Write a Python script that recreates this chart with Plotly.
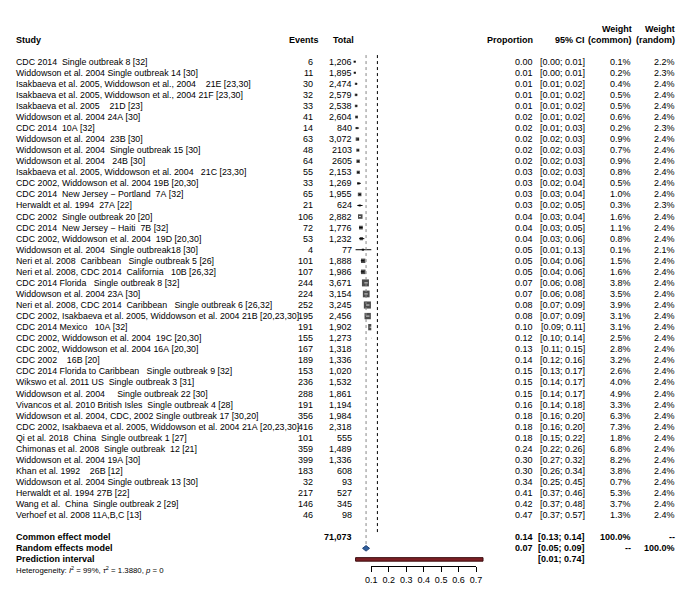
import plotly.graph_objects as go

NB = "\u00a0"

studies = [
    "CDC 2014  Single outbreak 8 [32]",
    "Widdowson et al. 2004 Single outbreak 14 [30]",
    "Isakbaeva et al. 2005, Widdowson et al., 2004    21E [23,30]",
    "Isakbaeva et al. 2005, Widdowson et al., 2004 21F [23,30]",
    "Isakbaeva et al. 2005    21D [23]",
    "Widdowson et al. 2004 24A [30]",
    "CDC 2014  10A [32]",
    "Widdowson et al. 2004  23B [30]",
    "Widdowson et al. 2004  Single outbreak 15 [30]",
    "Widdowson et al. 2004   24B [30]",
    "Isakbaeva et al. 2005, Widdowson et al. 2004   21C [23,30]",
    "CDC 2002, Widdowson et al. 2004 19B [20,30]",
    "CDC 2014  New Jersey \u2212 Portland  7A [32]",
    "Herwaldt et al. 1994  27A [22]",
    "CDC 2002  Single outbreak 20 [20]",
    "CDC 2014  New Jersey \u2212 Haiti  7B [32]",
    "CDC 2002, Widdowson et al. 2004  19D [20,30]",
    "Widdowson et al. 2004  Single outbreak18 [30]",
    "Neri et al. 2008  Caribbean   Single outbreak 5 [26]",
    "Neri et al. 2008, CDC 2014  California   10B [26,32]",
    "CDC 2014 Florida   Single outbreak 8 [32]",
    "Widdowson et al. 2004 23A [30]",
    "Neri et al. 2008, CDC 2014  Caribbean   Single outbreak 6 [26,32]",
    "CDC 2002, Isakbaeva et al. 2005, Widdowson et al. 2004 21B [20,23,30]",
    "CDC 2014 Mexico   10A [32]",
    "CDC 2002, Widdowson et al. 2004  19C [20,30]",
    "CDC 2002, Widdowson et al. 2004 16A [20,30]",
    "CDC 2002    16B [20]",
    "CDC 2014 Florida to Caribbean   Single outbreak 9 [32]",
    "Wikswo et al. 2011 US  Single outbreak 3 [31]",
    "Widdowson et al. 2004     Single outbreak 22 [30]",
    "Vivancos et al. 2010 British Isles  Single outbreak 4 [28]",
    "Widdowson et al. 2004, CDC, 2002 Single outbreak 17 [30,20]",
    "CDC 2002, Isakbaeva et al. 2005, Widdowson et al. 2004 21A [20,23,30]",
    "Qi et al. 2018  China  Single outbreak 1 [27]",
    "Chimonas et al. 2008  Single outbreak  12 [21]",
    "Widdowson et al. 2004 19A [30]",
    "Khan et al. 1992    26B [12]",
    "Widdowson et al. 2004 Single outbreak 13 [30]",
    "Herwaldt et al. 1994 27B [22]",
    "Wang et al.  China  Single outbreak 2 [29]",
    "Verhoef et al. 2008 11A,B,C [13]",
]
events = [6, 11, 30, 32, 33, 41, 14, 63, 48, 64, 55, 33, 65, 21, 106, 72, 53, 4,
          101, 107, 244, 224, 252, 195, 191, 155, 167, 189, 153, 236, 288, 191,
          356, 416, 101, 359, 399, 183, 32, 217, 146, 46]
total_labels = ["1,206", "1,895", "2,474", "2,579", "2,538", "2,604", "840", "3,072",
                "2103", "2605", "2,153", "1,269", "1,955", "624", "2,882", "1,776",
                "1,232", "77", "1,888", "1,986", "3,671", "3,154", "3,245", "2,456",
                "1,902", "1,273", "1,318", "1,336", "1,020", "1,532", "1,861", "1,194",
                "1,984", "2,318", "555", "1,489", "1,336", "608", "93", "527", "345", "98"]
proportion = [0.00, 0.01, 0.01, 0.01, 0.01, 0.02, 0.02, 0.02, 0.02, 0.02, 0.03, 0.03,
              0.03, 0.03, 0.04, 0.04, 0.04, 0.05, 0.05, 0.05, 0.07, 0.07, 0.08, 0.08,
              0.10, 0.12, 0.13, 0.14, 0.15, 0.15, 0.15, 0.16, 0.18, 0.18, 0.18, 0.24,
              0.30, 0.30, 0.34, 0.41, 0.42, 0.47]
ci_lower = [0.00, 0.00, 0.01, 0.01, 0.01, 0.01, 0.01, 0.02, 0.02, 0.02, 0.02, 0.02,
            0.03, 0.02, 0.03, 0.03, 0.03, 0.01, 0.04, 0.04, 0.06, 0.06, 0.07, 0.07,
            0.09, 0.10, 0.11, 0.12, 0.13, 0.14, 0.14, 0.14, 0.16, 0.16, 0.15, 0.22,
            0.27, 0.26, 0.25, 0.37, 0.37, 0.37]
ci_upper = [0.01, 0.01, 0.02, 0.02, 0.02, 0.02, 0.03, 0.03, 0.03, 0.03, 0.03, 0.04,
            0.04, 0.05, 0.04, 0.05, 0.06, 0.13, 0.06, 0.06, 0.08, 0.08, 0.09, 0.09,
            0.11, 0.14, 0.15, 0.16, 0.17, 0.17, 0.17, 0.18, 0.20, 0.20, 0.22, 0.26,
            0.32, 0.34, 0.45, 0.46, 0.48, 0.57]
weight_common = [0.1, 0.2, 0.4, 0.5, 0.5, 0.6, 0.2, 0.9, 0.7, 0.9, 0.8, 0.5, 1.0, 0.3,
                 1.6, 1.1, 0.8, 0.1, 1.5, 1.6, 3.8, 3.5, 3.9, 3.1, 3.1, 2.5, 2.8, 3.2,
                 2.6, 4.0, 4.9, 3.3, 6.3, 7.3, 1.8, 6.8, 8.2, 3.8, 0.7, 5.3, 3.7, 1.3]
weight_random = [2.2, 2.3, 2.4, 2.4, 2.4, 2.4, 2.3, 2.4, 2.4, 2.4, 2.4, 2.4, 2.4, 2.3,
                 2.4, 2.4, 2.4, 2.1, 2.4, 2.4, 2.4, 2.4, 2.4, 2.4, 2.4, 2.4, 2.4, 2.4,
                 2.4, 2.4, 2.4, 2.4, 2.4, 2.4, 2.4, 2.4, 2.4, 2.4, 2.4, 2.4, 2.4, 2.4]

common_total = "71,073"
common_est, common_lo, common_hi = 0.135, 0.13, 0.14
common_est_label, common_ci_label = "0.14", "[0.13; 0.14]"
random_est, random_lo, random_hi = 0.07, 0.05, 0.09
random_est_label, random_ci_label = "0.07", "[0.05; 0.09]"
pred_lo, pred_hi = 0.01, 0.74
pred_label = "[0.01; 0.74]"
tick_vals = [0.1, 0.2, 0.3, 0.4, 0.5, 0.6, 0.7]
tick_labels = ["0.1", "0.2", "0.3", "0.4", "0.5", "0.6", "0.7"]

# ---------------- layout geometry (page pixels, body margin = 8px) ----------------
OFF = 8
W, H = 684, 598
ROW0_PX, ROW_PX = 61.7 - OFF, 11.06
X0_PX, UNIT_PX = 353.9 - OFF, 177.7
FONT = "Arial, 'Liberation Sans', sans-serif"
FS = 9.0
FS_STUDY = 8.8

n = len(studies)
rows = list(range(n))
r_common, r_random, r_pred, r_het = n + 1, n + 2, n + 3, n + 3.95
r_header, r_header2 = -2, -3

y_range = [(H - ROW0_PX) / ROW_PX, -ROW0_PX / ROW_PX]
x_range = [-X0_PX / UNIT_PX, (W - X0_PX) / UNIT_PX]


def px(p):
    return (p - OFF) / W


def nb(s):
    return s.replace(" ", NB)


fig = go.Figure()

# vertical reference lines
fig.add_shape(type="line", xref="x", yref="y", x0=random_est, x1=random_est,
              y0=-0.6, y1=r_random - 0.25, line=dict(color="#888888", width=1, dash="dot"))
fig.add_shape(type="line", xref="x", yref="y", x0=common_est, x1=common_est,
              y0=-0.6, y1=r_common - 0.25, line=dict(color="black", width=1, dash="3px,3px"))

# CI lines
cx, cy = [], []
for i in rows:
    cx += [ci_lower[i], ci_upper[i], None]
    cy += [i, i, None]
fig.add_trace(go.Scatter(x=cx, y=cy, mode="lines", line=dict(color="black", width=1),
                         hoverinfo="skip", showlegend=False))

# squares
sizes = [max(3.6 * w ** 0.5, 2.2) for w in weight_common]
prop_plot = [events[i] / int(total_labels[i].replace(",", "")) for i in rows]
fig.add_trace(go.Scatter(x=prop_plot, y=rows, mode="markers",
                         marker=dict(symbol="square", size=sizes, color="black",
                                     line=dict(width=0)),
                         showlegend=False))

# white CI inside squares
wx, wy = [], []
for i in rows:
    half = sizes[i] / 2 / UNIT_PX
    if sizes[i] > 4 and ci_lower[i] > prop_plot[i] - half and ci_upper[i] < prop_plot[i] + half:
        wx += [ci_lower[i], ci_upper[i], None]
        wy += [i, i, None]
fig.add_trace(go.Scatter(x=wx, y=wy, mode="lines", line=dict(color="white", width=1),
                         hoverinfo="skip", showlegend=False))

# common effect diamond
fig.add_trace(go.Scatter(
    x=[common_lo, common_est, common_hi, common_est, common_lo],
    y=[r_common, r_common - 0.28, r_common, r_common + 0.28, r_common],
    mode="lines", fill="toself", fillcolor="black", line=dict(color="black", width=1),
    showlegend=False, hoverinfo="skip"))
# random effects diamond
fig.add_trace(go.Scatter(
    x=[random_lo, random_est, random_hi, random_est, random_lo],
    y=[r_random, r_random - 0.25, r_random, r_random + 0.25, r_random],
    mode="lines", fill="toself", fillcolor="#2f5f9e", line=dict(color="#1d3f73", width=1),
    showlegend=False, hoverinfo="skip"))
# prediction interval
fig.add_shape(type="rect", xref="x", yref="y", x0=pred_lo, x1=pred_hi,
              y0=r_pred - 0.16, y1=r_pred + 0.16,
              fillcolor="#7d1f24", line=dict(color="#3b0d10", width=1))

# dummy trace for the visible tick axis
fig.add_trace(go.Scatter(x=[tick_vals[0]], y=[r_het], xaxis="x2", yaxis="y",
                         mode="markers", marker=dict(opacity=0), showlegend=False,
                         hoverinfo="skip"))

# ---------------- text ----------------
ann = []


def txt(xpx, yrow, s, anchor="left", bold=False, size=FS):
    if bold:
        s = "<b>" + s + "</b>"
    ann.append(dict(x=px(xpx), y=yrow, xref="paper", yref="y", text=s, showarrow=False,
                    xanchor=anchor, yanchor="middle", borderpad=0, borderwidth=0,
                    font=dict(family=FONT, size=size, color="black")))


# headers
txt(10, r_header, "Study", bold=True)
txt(318, r_header, "Events", "right", bold=True)
txt(354, r_header, "Total", "right", bold=True)
txt(536, r_header, "Proportion", "right", bold=True)
txt(589, r_header, nb("95% CI"), "right", bold=True)
txt(637, r_header2, "Weight", "right", bold=True)
txt(637, r_header, "(common)", "right", bold=True)
txt(681, r_header2, "Weight", "right", bold=True)
txt(681, r_header, "(random)", "right", bold=True)

for i in rows:
    txt(10, i, nb(studies[i]), size=FS_STUDY)
    txt(312, i, str(events[i]), "right")
    txt(352, i, total_labels[i], "right")
    txt(536, i, f"{proportion[i]:.2f}", "right")
    txt(589, i, nb(f"[{ci_lower[i]:.2f}; {ci_upper[i]:.2f}]"), "right")
    txt(636, i, f"{weight_common[i]:.1f}%", "right")
    txt(681, i, f"{weight_random[i]:.1f}%", "right")

txt(10, r_common, "Common effect model", bold=True)
txt(352, r_common, common_total, "right", bold=True)
txt(536, r_common, common_est_label, "right", bold=True)
txt(589, r_common, nb(common_ci_label), "right", bold=True)
txt(636, r_common, "100.0%", "right", bold=True)
txt(681, r_common, "--", "right", bold=True)

txt(10, r_random, "Random effects model", bold=True)
txt(536, r_random, random_est_label, "right", bold=True)
txt(589, r_random, nb(random_ci_label), "right", bold=True)
txt(636, r_random, "--", "right", bold=True)
txt(681, r_random, "100.0%", "right", bold=True)

txt(10, r_pred, "Prediction interval", bold=True)
txt(589, r_pred, nb(pred_label), "right", bold=True)

txt(10, r_het, "Heterogeneity: <i>I</i><sup>2</sup> = 99%, <i>\u03c4</i><sup>2</sup> = 1.3880, <i>p</i> = 0",
    size=7.8)

axis_y_px = 565.7 - OFF
fig.update_layout(
    width=W, height=H, margin=dict(l=0, r=0, t=0, b=0),
    paper_bgcolor="white", plot_bgcolor="white",
    xaxis=dict(range=x_range, domain=[0, 1], visible=False, fixedrange=True),
    xaxis2=dict(range=[tick_vals[0], tick_vals[-1]], anchor="free",
                position=1 - axis_y_px / H,
                domain=[(X0_PX + UNIT_PX * tick_vals[0]) / W, (X0_PX + UNIT_PX * tick_vals[-1]) / W],
                tickvals=tick_vals, ticktext=tick_labels, ticks="outside", ticklen=5,
                tickcolor="black", tickwidth=1, showline=True, linecolor="black", linewidth=1,
                showgrid=False, zeroline=False, fixedrange=True,
                tickfont=dict(family=FONT, size=9, color="black")),
    yaxis=dict(range=y_range, domain=[0, 1], visible=False, fixedrange=True),
    annotations=ann,
    showlegend=False,
)

fig.write_html("out.html")
